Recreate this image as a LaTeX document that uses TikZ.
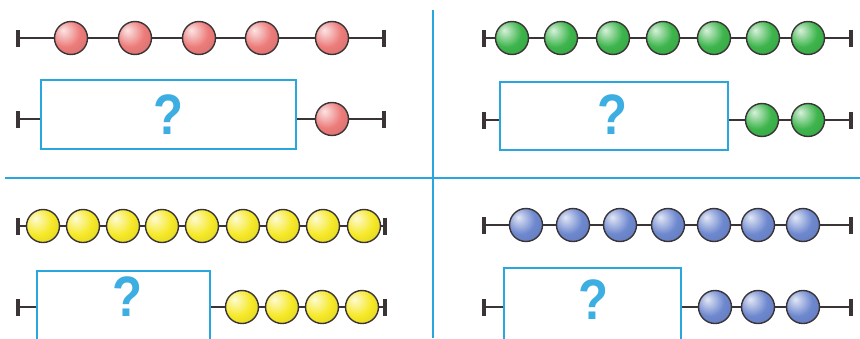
\documentclass[tikz,border=0pt]{standalone}
\usepackage{fontspec}
\setsansfont{Liberation Sans}
\usetikzlibrary{arrows.meta}
\definecolor{rulecol}{HTML}{2AA6DF}
\definecolor{questcol}{HTML}{3CAEE2}
\definecolor{wire}{HTML}{3A3436}
\definecolor{beadred}{HTML}{EC7C7A}
\definecolor{beadgreen}{HTML}{3DB54C}
\definecolor{beadyellow}{HTML}{F6E928}
\definecolor{beadblue}{HTML}{6E88CF}
\colorlet{beadcol}{beadred}
\pgfdeclareradialshading[beadcol]{beadshade}{\pgfpoint{-12bp}{12bp}}%
  {color(0bp)=(beadcol!20!white); color(22bp)=(beadcol); color(48bp)=(beadcol!85!black); color(70bp)=(beadcol!70!black)}

\begin{document}
\begin{tikzpicture}[x=1pt, y=-1pt,
  string/.style={wire, line width=2.8},
  ends/.style={string,{Bar[width=17,line width=0pt 1.3]}-{Bar[width=17,line width=0pt 1.3]}},
  lend/.style={string,{Bar[width=17,line width=0pt 1.3]}-},
  rend/.style={string,-{Bar[width=17,line width=0pt 1.3]}},
  pearl/.style={circle, draw=wire, line width=1.4, minimum size=33, inner sep=0, shading=beadshade},
  qbox/.style={draw=rulecol, line width=2.8, fill=white, inner sep=0},
  qmark/.style={text=questcol, font=\sffamily\bfseries\fontsize{57}{57}\selectfont, inner sep=0},
  divider/.style={rulecol, line width=2.8}]
\useasboundingbox (0,0) rectangle (860,338);
% --- dividers ---
\draw[divider] (433,10) -- (433,338);
\draw[divider] (5,178) -- (860,178);
% --- red ---
\begin{scope}
\colorlet{beadcol}{beadred}
\coordinate (A1) at (16,38); \coordinate (B1) at (386,38);
\coordinate (C1) at (16,119); \coordinate (D1) at (386,119);
\draw[ends] (A1) -- (B1);
\foreach \x [count=\i] in {71,135,199,262,332}
  {\node[pearl] (red\i) at (\x,38) {};}
\node[qbox, minimum width=255, minimum height=69] (box1) at (168.5,114.5) {};
\node[qmark] (q1) at (168,115) {\scalebox{0.86}[1]{?}};
\draw[lend] (C1) -- (C1 -| box1.west);
\draw[rend] (D1 -| box1.east) -- (D1);
\node[pearl] (redx1) at (332,119) {};
\end{scope}
% --- green ---
\begin{scope}
\colorlet{beadcol}{beadgreen}
\coordinate (A2) at (482,38); \coordinate (B2) at (853,38);
\coordinate (C2) at (482,120); \coordinate (D2) at (853,120);
\draw[ends] (A2) -- (B2);
\foreach \x [count=\i] in {512,561,613,663,714,763,808}
  {\node[pearl] (green\i) at (\x,38) {};}
\node[qbox, minimum width=228, minimum height=68] (box2) at (614,116) {};
\node[qmark] (q2) at (612,115) {\scalebox{0.86}[1]{?}};
\draw[lend] (C2) -- (C2 -| box2.west);
\draw[rend] (D2 -| box2.east) -- (D2);
\foreach \x [count=\i] in {762,808}
  {\node[pearl] (greenx\i) at (\x,120) {};}
\end{scope}
% --- yellow ---
\begin{scope}
\colorlet{beadcol}{beadyellow}
\coordinate (A3) at (16,226); \coordinate (B3) at (387,226);
\coordinate (C3) at (16,307); \coordinate (D3) at (387,307);
\draw[ends] (A3) -- (B3);
\foreach \x [count=\i] in {43,83,123,162,202,243,283,323,364}
  {\node[pearl] (yellow\i) at (\x,226) {};}
\node[qbox, minimum width=173, minimum height=72] (box3) at (123.5,307) {};
\node[qmark] (q3) at (127,297) {\scalebox{0.86}[1]{?}};
\draw[lend] (C3) -- (C3 -| box3.west);
\draw[rend] (D3 -| box3.east) -- (D3);
\foreach \x [count=\i] in {242,282,322,362}
  {\node[pearl] (yellowx\i) at (\x,307) {};}
\end{scope}
% --- blue ---
\begin{scope}
\colorlet{beadcol}{beadblue}
\coordinate (A4) at (482,225); \coordinate (B4) at (853,225);
\coordinate (C4) at (482,307); \coordinate (D4) at (853,307);
\draw[ends] (A4) -- (B4);
\foreach \x [count=\i] in {526,573,620,668,714,758,803}
  {\node[pearl] (blue\i) at (\x,225) {};}
\node[qbox, minimum width=177, minimum height=78] (box4) at (592.5,307) {};
\node[qmark] (q4) at (593,300) {\scalebox{0.86}[1]{?}};
\draw[lend] (C4) -- (C4 -| box4.west);
\draw[rend] (D4 -| box4.east) -- (D4);
\foreach \x [count=\i] in {715,758,803}
  {\node[pearl] (bluex\i) at (\x,307) {};}
\end{scope}
\end{tikzpicture}
\end{document}
